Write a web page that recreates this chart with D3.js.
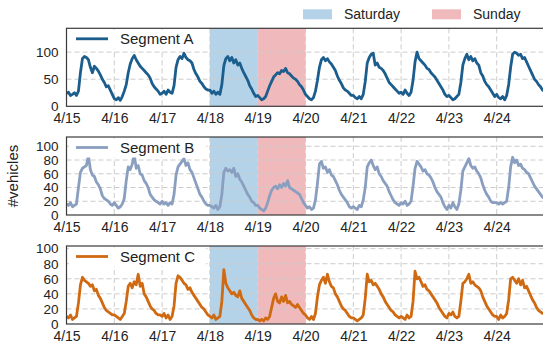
<!DOCTYPE html>
<html><head><meta charset="utf-8">
<script src="https://cdn.jsdelivr.net/npm/d3@7"></script>
<style>html,body{margin:0;padding:0;background:#fff;overflow:hidden}svg{display:block}text{font-family:"Liberation Sans",Arial,sans-serif}</style>
</head><body>
<script>
// ---- data (hourly readings, 4/15 00:00 .. 4/25 00:00, year 2015) ----
const dayLabels = ["4/15","4/16","4/17","4/18","4/19","4/20","4/21","4/22","4/23","4/24"];
const seriesNames = ["Segment A","Segment B","Segment C"];
const weekendNames = ["Saturday","Sunday"];
const weekendDays = [3,4]; // index in dayLabels

const segA = [
 24,26,20,22,25,20,28,62,88,92,90,86,72,62,74,70,65,58,50,44,36,38,30,22,
 14,12,16,11,18,28,40,62,78,88,94,86,80,74,70,66,62,58,52,42,36,32,28,22,
 24,28,22,30,26,24,38,72,86,92,88,98,90,86,84,80,68,60,54,46,42,36,32,30,
 30,24,28,22,26,22,40,75,88,92,84,90,80,86,76,80,70,62,55,48,38,32,24,18,
 20,16,12,14,18,28,38,46,54,58,62,60,66,64,70,62,60,56,52,50,46,40,36,30,
 22,18,14,12,16,28,48,72,86,90,84,88,82,78,72,66,56,48,42,34,30,28,24,20,
 20,16,14,18,14,22,46,80,90,96,98,76,80,72,70,66,60,52,44,40,36,32,28,24,
 26,22,30,24,20,26,48,82,100,88,84,80,76,70,68,62,58,54,48,42,36,30,22,18,
 20,16,12,14,18,22,44,76,88,96,86,92,84,88,80,76,62,56,46,40,36,30,24,18,
 22,16,14,18,12,20,40,72,96,100,98,94,96,88,90,82,74,66,58,50,46,40,36,30,
 28
];
const segB = [
 16,14,18,12,14,16,40,62,68,70,72,86,66,58,56,48,44,38,28,24,22,20,16,14,
 18,14,10,12,16,24,50,70,66,74,88,68,72,60,58,50,46,40,30,26,22,20,18,16,
 20,16,18,14,18,16,30,58,70,74,78,82,72,76,66,62,54,46,38,30,26,20,16,14,
 14,12,10,14,8,12,30,62,68,64,66,62,68,56,60,52,48,42,36,30,26,20,18,14,
 14,10,8,6,10,18,28,36,40,42,38,44,40,46,42,50,40,38,36,34,32,30,24,18,
 14,10,12,8,10,22,46,74,78,68,70,62,66,58,56,50,44,36,30,26,22,18,12,10,
 12,10,8,14,12,22,40,70,76,80,72,66,70,60,56,50,46,42,34,28,22,18,16,14,
 18,16,20,14,16,20,42,68,78,74,70,64,66,60,58,54,48,40,34,30,26,18,12,8,
 14,10,18,12,8,16,36,64,70,76,82,72,68,70,64,60,54,44,36,30,26,20,18,18,
 18,16,18,16,18,20,40,70,84,76,80,72,74,68,66,62,60,54,48,42,38,34,30,26,
 24
];
const segC = [
 10,8,12,6,8,10,28,52,62,58,56,54,50,52,44,46,38,34,28,22,18,16,14,12,
 12,10,8,6,10,14,30,50,54,48,56,52,66,50,54,40,36,30,24,20,18,14,12,12,
 10,14,8,12,6,10,24,54,64,62,58,54,52,46,48,42,38,34,30,26,22,20,16,12,
 10,8,12,6,8,10,30,72,54,48,44,40,42,38,36,44,34,30,26,22,18,12,8,6,
 6,4,6,4,8,6,10,22,34,40,30,28,36,30,38,28,30,26,24,22,26,22,18,14,
 12,8,6,10,6,14,36,52,58,62,54,66,56,50,48,40,36,30,24,20,18,14,10,8,
 8,6,4,6,8,12,34,66,56,58,52,54,50,46,40,36,30,26,22,18,16,12,10,8,
 10,8,6,12,8,10,30,70,60,62,56,50,52,46,44,40,36,32,28,22,18,14,10,8,
 14,12,16,10,8,10,30,54,56,60,66,54,56,52,50,48,44,36,30,24,20,16,12,10,
 10,6,12,8,10,14,32,60,62,58,54,60,52,58,48,50,44,38,32,28,22,18,16,14,
 14
];
const yTicksA = [0,50,100];
const yTicksBC = [0,20,40,60,80,100];
const yMax = [144,113.5,103.5];

// ---- drawing ----
const W = 543, H = 347;
const colors = ["#1b5d8d","#8a9fc0","#d06a12"];
const bandColors = ["#b4d3e8","#f0babd"];
const svg = d3.select("body").append("svg").attr("width", W).attr("height", H);

const start = Date.UTC(2015,3,15);
const dayMs = 864e5, hourMs = 36e5;
const dayDates = dayLabels.map((_, i) => new Date(start + i*dayMs));
const x = d3.scaleUtc().domain([new Date(start), new Date(start + 10*dayMs)]).range([66.5, 544.5]);

const panels = [
  {top: 28.3, data: segA, ticks: yTicksA},
  {top: 137, data: segB, ticks: yTicksBC},
  {top: 246, data: segC, ticks: yTicksBC}
];
const ph = 78;

panels.forEach((p, i) => {
  const g = svg.append("g");
  const y = d3.scaleLinear().domain([0, yMax[i]]).range([p.top + ph, p.top]);
  // weekend bands
  weekendDays.forEach((d, k) => {
    g.append("rect")
      .attr("x", x(dayDates[d])).attr("y", p.top)
      .attr("width", x(new Date(+dayDates[d] + dayMs)) - x(dayDates[d]))
      .attr("height", ph).attr("fill", bandColors[k]);
  });
  // grid
  g.append("g").selectAll("line").data(p.ticks.slice(1)).join("line")
    .attr("x1", x.range()[0]).attr("x2", x.range()[1])
    .attr("y1", d => y(d)).attr("y2", d => y(d))
    .attr("stroke", "#cccccc").attr("stroke-width", 1).attr("stroke-dasharray", "5,3");
  g.append("g").selectAll("line").data(dayDates.slice(1)).join("line")
    .attr("x1", d => x(d)).attr("x2", d => x(d))
    .attr("y1", p.top).attr("y2", p.top + ph)
    .attr("stroke", "#cccccc").attr("stroke-width", 1).attr("stroke-dasharray", "5,3");
  // line
  const pts = p.data.map((v, j) => [new Date(start + j*hourMs), v]);
  g.append("path").datum(pts)
    .attr("fill", "none").attr("stroke", colors[i]).attr("stroke-width", 2.8)
    .attr("stroke-linejoin", "round")
    .attr("d", d3.line().x(d => x(d[0])).y(d => y(d[1])));
  // legend
  g.append("rect").attr("x", 69).attr("y", p.top + 1.5).attr("width", 137).attr("height", 19).attr("fill", "#fff");
  g.append("line").attr("x1", 76).attr("x2", 108).attr("y1", p.top + 10.5).attr("y2", p.top + 10.5)
    .attr("stroke", colors[i]).attr("stroke-width", 2.8);
  g.append("text").attr("x", 120).attr("y", p.top + 16).attr("font-size", 15).attr("fill", "#222").text(seriesNames[i]);
  // frame
  g.append("rect").attr("x", x.range()[0]).attr("y", p.top).attr("width", x.range()[1] - x.range()[0]).attr("height", ph)
    .attr("fill", "none").attr("stroke", "#3a3a3a").attr("stroke-width", 1.2);
  // axes
  const ya = d3.axisLeft(y).tickValues(p.ticks).tickSize(0).tickPadding(8);
  const yg = g.append("g").attr("transform", `translate(${x.range()[0]},0)`).call(ya);
  yg.select(".domain").remove();
  yg.selectAll("text").attr("font-size", 13.5).attr("fill", "#222").style("font-family", '"Liberation Sans",Arial,sans-serif');
  const xa = d3.axisBottom(x).tickValues(dayDates).tickFormat((d, k) => dayLabels[k]).tickSize(0).tickPadding(7);
  const xg = g.append("g").attr("transform", `translate(0,${p.top + ph})`).call(xa);
  xg.select(".domain").remove();
  xg.selectAll("text").attr("font-size", 14).attr("fill", "#222").style("font-family", '"Liberation Sans",Arial,sans-serif');
});

// y label
svg.append("text").attr("transform", "translate(18,176) rotate(-90)")
  .attr("text-anchor", "middle").attr("font-size", 15).attr("fill", "#222").text("#vehicles");

// top legend
const legX = [303, 432];
weekendNames.forEach((n, k) => {
  svg.append("rect").attr("x", legX[k]).attr("y", 9.3).attr("width", 29).attr("height", 10).attr("fill", bandColors[k]);
  svg.append("text").attr("x", legX[k] + 41).attr("y", 19.3).attr("font-size", 14).attr("fill", "#222").text(n);
});
</script>
</body></html>
